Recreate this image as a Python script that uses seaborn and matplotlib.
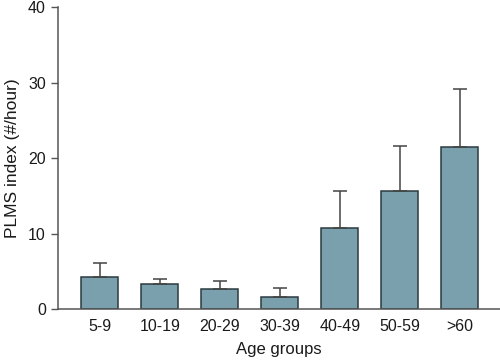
import numpy as np
import pandas as pd
import matplotlib
matplotlib.use('Agg')
import matplotlib.pyplot as plt
import seaborn as sns

# Values
age_groups = ['5-9', '10-19', '20-29', '30-39', '40-49', '50-59', '>60']
plms_mean = [4.2, 3.3, 2.6, 1.6, 10.8, 15.6, 21.5]
plms_upper = [6.1, 4.0, 3.7, 2.8, 15.6, 21.6, 29.2]
y_ticks = [0, 10, 20, 30, 40]


def main():
    sns.set_style('ticks')
    plt.rcParams['font.family'] = ['Liberation Sans', 'DejaVu Sans']

    df = pd.DataFrame({'age': age_groups, 'plms': plms_mean, 'upper': plms_upper})

    fig = plt.figure(figsize=(5, 3.6), dpi=100)
    ax = fig.add_axes([0.1154, 0.1417, 0.8846, 0.838])

    sns.barplot(data=df, x='age', y='plms', order=age_groups, color='#7a9fad',
                saturation=1, width=0.61, edgecolor='#2b3a40', linewidth=1.1,
                errorbar=None, ax=ax)

    # one-sided (upper) error bars
    x_pos = np.arange(len(age_groups))
    err = df['upper'] - df['plms']
    ax.errorbar(x_pos, df['plms'], yerr=[np.zeros(len(err)), err], fmt='none',
                ecolor='#444444', elinewidth=1.1, capsize=5, capthick=1.1, zorder=1)

    ax.set_ylim(0, 40)
    ax.set_xlim(-0.7, 6.67)
    ax.set_yticks(y_ticks)
    ax.set_xlabel('Age groups', fontsize=12, color='#1a1a1a', labelpad=6)
    ax.set_ylabel('PLMS index (#/hour)', fontsize=12.5, color='#1a1a1a', labelpad=6)
    ax.tick_params(axis='x', length=0, labelsize=11.5, colors='#1a1a1a', pad=7)
    ax.tick_params(axis='y', length=5, width=1, labelsize=11.5, colors='#1a1a1a', color='#555555')
    sns.despine(ax=ax)
    for s in ['left', 'bottom']:
        ax.spines[s].set_color('#555555')
        ax.spines[s].set_linewidth(1.1)

    fig.savefig('out.png', dpi=100)
    plt.close(fig)


if __name__ == "__main__":
    main()
